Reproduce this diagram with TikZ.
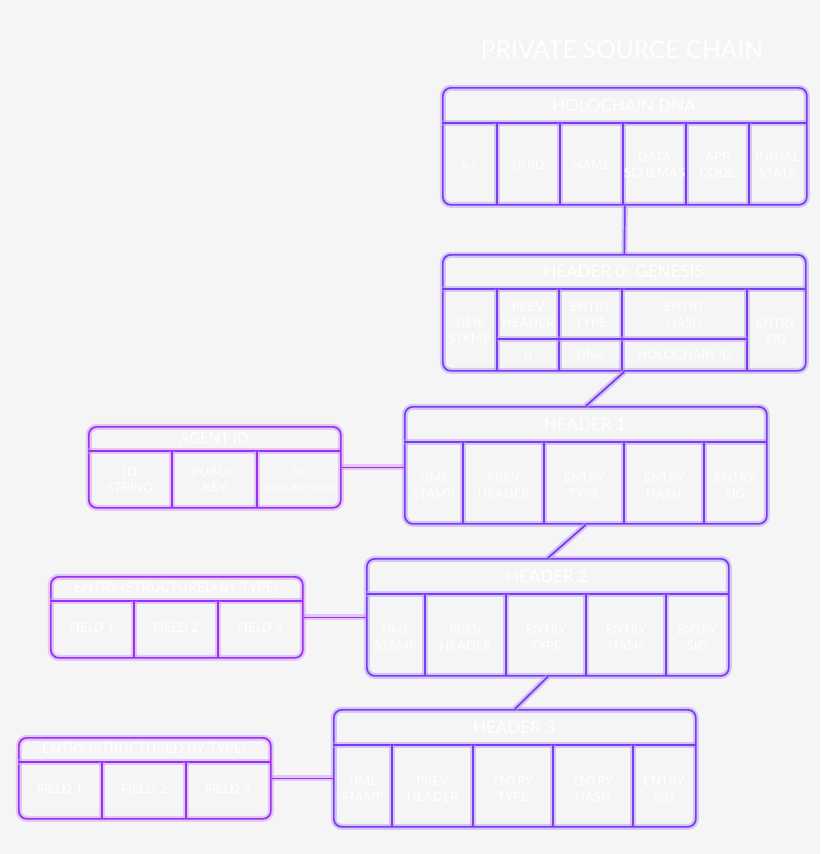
\documentclass[tikz,border=0pt]{standalone}
\usepackage{fontspec}
\setmainfont{Lato}
\definecolor{chainbg}{HTML}{F5F5F5}
\definecolor{chainline}{HTML}{7A3CF0}
\definecolor{entryline}{HTML}{9A30F0}
\definecolor{chainglow}{HTML}{B99AF8}
\definecolor{entryglow}{HTML}{D29AF8}
\tikzset{
    chainbox/.style={draw=chainline,line width=1.7pt,rounded corners=8pt,inner sep=0pt,anchor=north west,
        preaction={draw=chainglow,line width=6pt,draw opacity=0.5}},
    entrybox/.style={draw=entryline,line width=1.7pt,rounded corners=8pt,inner sep=0pt,anchor=north west,
        preaction={draw=entryglow,line width=6pt,draw opacity=0.5}},
    rowline/.style={draw=chainline,line width=1.7pt,preaction={draw=chainglow,line width=6pt,draw opacity=0.5}},
    entryrow/.style={draw=entryline,line width=1.7pt,preaction={draw=entryglow,line width=6pt,draw opacity=0.5}},
    celltext/.style={text=white,align=center,font=\fontsize{13}{15.5}\selectfont},
    titletext/.style={text=white,font=\fontsize{17}{20}\selectfont},
}
\begin{document}
\begin{tikzpicture}[x=1pt,y=-1pt]
    \useasboundingbox[fill=chainbg] (0,0) rectangle (820,854);
    %% Title
    \node[text=white,font=\fontsize{24.5}{28}\selectfont] (title) at (622,50) {PRIVATE SOURCE CHAIN};
    %% Holochain DNA
    \begin{scope}[shift={(442,87)}]
        \node[chainbox,minimum width=364,minimum height=117] (dna) at (0,0) {};
        \node[titletext] (dna-title) at (182,18) {HOLOCHAIN DNA};
        \draw[rowline] (0,36) -- (364,36);
        \foreach \c in {55,118,181,244,307} {
            \draw[rowline] (\c,36) -- (\c,117);
        }
        \foreach \c/\l [count=\i] in {27.5/v.x,86.5/UUID,149.5/NAME,212.5/DATA\\SCHEMAS,275.5/APP\\CODE,335.5/INITIAL\\STATE} {
            \node[celltext] (dna-c\i) at (\c,78) {\l};
        }
    \end{scope}
    %% Header 0
    \begin{scope}[shift={(442,254)}]
        \node[chainbox,minimum width=363,minimum height=116] (h0) at (0,0) {};
        \node[titletext] (h0-title) at (181.5,17.5) {HEADER 0: GENESIS};
        \draw[rowline] (0,35) -- (363,35);
        \foreach \c in {55,117,180,305} {
            \draw[rowline] (\c,35) -- (\c,116);
        }
        \draw[rowline] (55,85) -- (305,85);
        \node[celltext] (h0-c1) at (27.5,77) {TIME\\STAMP};
        \node[celltext] (h0-c2) at (86,61) {PREV\\HEADER};
        \node[celltext] (h0-c3) at (148.5,61) {ENTRY\\TYPE};
        \node[celltext] (h0-c4) at (242.5,61) {ENTRY\\HASH};
        \node[celltext] (h0-c5) at (334,78) {ENTRY\\SIG};
        \node[celltext] (h0-c6) at (86,101) {0};
        \node[celltext] (h0-c7) at (148.5,101) {DNA};
        \node[celltext] (h0-c8) at (242.5,101) {HOLOCHAIN ID};
    \end{scope}
    %% Headers 1 to 3
    \foreach \n/\x/\y/\t in {h1/404/406/HEADER 1,h2/366/558/HEADER 2,h3/333/709/HEADER 3} {
        \begin{scope}[shift={(\x,\y)}]
            \node[chainbox,minimum width=362,minimum height=117] (\n) at (0,0) {};
            \node[titletext] (\n-title) at (181,18) {\t};
            \draw[rowline] (0,36) -- (362,36);
            \foreach \c in {59,140,220,300} {
                \draw[rowline] (\c,36) -- (\c,117);
            }
            \foreach \c/\l [count=\i] in {29.5/TIME\\STAMP,99.5/PREV\\HEADER,180/ENTRY\\TYPE,260/ENTRY\\HASH,331/ENTRY\\SIG} {
                \node[celltext] (\n-c\i) at (\c,80) {\l};
            }
        \end{scope}
    }
    %% Agent ID
    \begin{scope}[shift={(88,426)}]
        \node[entrybox,minimum width=252,minimum height=81] (agent) at (0,0) {};
        \node[titletext,font=\fontsize{15}{17}\selectfont] (agent-title) at (126,12.5) {AGENT ID};
        \draw[entryrow] (0,25) -- (252,25);
        \foreach \c in {84,169} {
            \draw[entryrow] (\c,25) -- (\c,81);
        }
        \node[celltext] (agent-c1) at (42,54) {ID\\STRING};
        \node[celltext] (agent-c2) at (126.5,54) {PUBLIC\\KEY};
        \node[celltext,font=\fontsize{10.5}{15.5}\selectfont] (agent-c3) at (210.5,54) {ID\\DESCRIPTION};
    \end{scope}
    %% Entries
    \foreach \n/\x/\y in {e2/50/576,e3/18/737} {
        \begin{scope}[shift={(\x,\y)}]
            \node[entrybox,minimum width=252,minimum height=81] (\n) at (0,0) {};
            \node[titletext,font=\fontsize{14}{16}\selectfont] (\n-title) at (126,12.5) {ENTRY (STRUCTURED BY TYPE)};
            \draw[entryrow] (0,25) -- (252,25);
            \foreach \c in {84,168} {
                \draw[entryrow] (\c,25) -- (\c,81);
            }
            \foreach \c/\l [count=\i] in {42/FIELD 1,126/FIELD 2,210/FIELD 3} {
                \node[celltext] (\n-c\i) at (\c,52) {\l};
            }
        \end{scope}
    }
    %% Chain links
    \draw[rowline] (dna.south) -- (h0.north);
    \draw[rowline] (h0.south) -- (h1.north);
    \draw[rowline] (h1.south) -- (h2.north);
    \draw[rowline] (h2.south) -- (h3.north);
    \draw[entryrow] (agent.east) -- (agent.east -| h1.west);
    \draw[entryrow] (e2.east) -- (e2.east -| h2.west);
    \draw[entryrow] (e3.east) -- (e3.east -| h3.west);
\end{tikzpicture}
\end{document}
